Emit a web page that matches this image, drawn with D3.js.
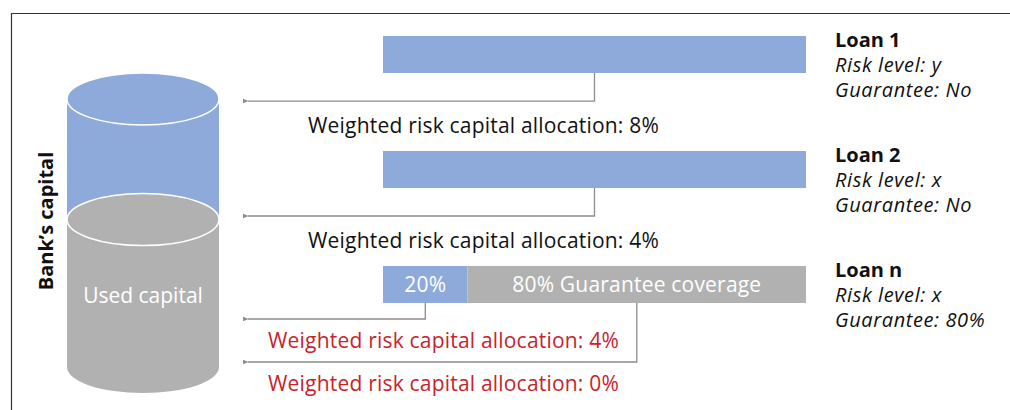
<!DOCTYPE html>
<html>
<head>
<meta charset="utf-8">
<script src="https://cdn.jsdelivr.net/npm/d3@7"></script>
<style>
  body { margin: 0; background: #fff; }
  text { font-family: "Open Sans", sans-serif; }
</style>
</head>
<body>
<div id="chart"></div>
<script>
// data
const loans = ["Loan 1", "Loan 2", "Loan n"];
const riskLevels = ["y", "x", "x"];
const guarantees = ["No", "No", "80%"];
// each loan is split in segments: share of the loan, label, capital allocation (%)
const segShares = [[100], [100], [20, 80]];
const segLabels = [[""], [""], ["20%", "80% Guarantee coverage"]];
const segAllocations = [[8], [4], [4, 0]];
const usedCapitalShare = 55; // share of bank's capital already used

const width = 1010;
const height = 410;

const blue = "#8eaadb";
const grey = "#b1b1b1";
const red = "#c8232c";
const lineGrey = "#8c8c8c";

const svg = d3.select("#chart")
    .append("svg")
    .attr("width", width)
    .attr("height", height);

// arrow head
svg.append("defs").append("marker")
    .attr("id", "arrow")
    .attr("viewBox", "0 0 10 10")
    .attr("refX", 1)
    .attr("refY", 5)
    .attr("markerWidth", 6)
    .attr("markerHeight", 6)
    .attr("markerUnits", "userSpaceOnUse")
    .attr("orient", "auto-start-reverse")
    .append("path")
    .attr("d", "M10,1L0,5L10,9Z")
    .attr("fill", lineGrey);

// frame
svg.append("path")
    .attr("d", `M11.5,${height}V13.5H${width}`)
    .attr("fill", "none")
    .attr("stroke", "#333")
    .attr("stroke-width", 1.2);

// ---- cylinder (bank's capital)
const capY = d3.scaleLinear().domain([0, 100]).range([367, 99]);
const cx = 143, rx = 76, ry = 26;

const cyl = svg.append("g");
cyl.append("ellipse")
    .attr("cx", cx).attr("cy", capY(0))
    .attr("rx", rx).attr("ry", ry)
    .attr("fill", grey);
cyl.append("rect")
    .attr("x", cx - rx).attr("y", capY(usedCapitalShare))
    .attr("width", rx * 2).attr("height", capY(0) - capY(usedCapitalShare))
    .attr("fill", grey);
cyl.append("rect")
    .attr("x", cx - rx).attr("y", capY(100))
    .attr("width", rx * 2).attr("height", capY(usedCapitalShare) - capY(100))
    .attr("fill", blue);
cyl.append("ellipse")
    .attr("cx", cx).attr("cy", capY(usedCapitalShare))
    .attr("rx", rx).attr("ry", ry)
    .attr("fill", grey)
    .attr("stroke", "#fff").attr("stroke-width", 1.5);
cyl.append("ellipse")
    .attr("cx", cx).attr("cy", capY(100))
    .attr("rx", rx).attr("ry", ry)
    .attr("fill", blue)
    .attr("stroke", "#fff").attr("stroke-width", 1.5);

cyl.append("text")
    .attr("x", cx)
    .attr("y", 303)
    .attr("text-anchor", "middle")
    .attr("fill", "#fff")
    .style("font-size", "21px")
    .text("Used capital");

svg.append("text")
    .attr("transform", `translate(53,221) rotate(-90)`)
    .attr("text-anchor", "middle")
    .style("font-size", "20px")
    .style("font-weight", "bold")
    .attr("fill", "#111")
    .text("Bank\u2019s capital");

// ---- loan bars
const y = d3.scaleBand()
    .domain(loans)
    .range([36, 303])
    .paddingInner(0.678)
    .paddingOuter(0);

const x = d3.scaleLinear()
    .domain([0, 100])
    .range([383, 806]);

const arrowLeft = 248;

loans.forEach((loan, i) => {
    const top = y(loan);
    const bottom = top + y.bandwidth();
    const split = segShares[i].length > 1;
    let start = 0;

    segShares[i].forEach((share, j) => {
        const x0 = x(start);
        const x1 = x(start + share);
        const mid = (x0 + x1) / 2;
        start += share;

        svg.append("rect")
            .attr("x", x0)
            .attr("y", top)
            .attr("width", x1 - x0)
            .attr("height", y.bandwidth())
            .attr("fill", j === 0 ? blue : grey);

        if (segLabels[i][j]) {
            svg.append("text")
                .attr("x", mid)
                .attr("y", top + 26)
                .attr("text-anchor", "middle")
                .attr("fill", "#fff")
                .style("font-size", "21px")
                .style("letter-spacing", "0.2px")
                .text(segLabels[i][j]);
        }

        // connector to the cylinder
        const ay = split ? bottom + 16 + j * 43 : bottom + 28;
        svg.append("path")
            .attr("d", `M${mid},${bottom}V${ay}H${arrowLeft}`)
            .attr("fill", "none")
            .attr("stroke", lineGrey)
            .attr("stroke-width", 1.3)
            .attr("marker-end", "url(#arrow)");

        svg.append("text")
            .attr("x", split ? 268 : 308)
            .attr("y", ay + (split ? 29 : 32))
            .attr("fill", split ? red : "#111")
            .style("font-size", "21px")
            .style("letter-spacing", "0.2px")
            .text(`Weighted risk capital allocation: ${segAllocations[i][j]}%`);
    });

    // loan description on the right
    const desc = svg.append("text")
        .attr("x", 835)
        .attr("y", top + 11)
        .attr("fill", "#111")
        .style("font-size", "20px");
    desc.append("tspan")
        .style("font-weight", "bold")
        .text(loan);
    desc.append("tspan")
        .attr("x", 835).attr("dy", 25)
        .style("font-style", "italic")
        .style("letter-spacing", "0.6px")
        .text(`Risk level: ${riskLevels[i]}`);
    desc.append("tspan")
        .attr("x", 835).attr("dy", 25)
        .style("font-style", "italic")
        .style("letter-spacing", "0.6px")
        .text(`Guarantee: ${guarantees[i]}`);
});
</script>
</body>
</html>
